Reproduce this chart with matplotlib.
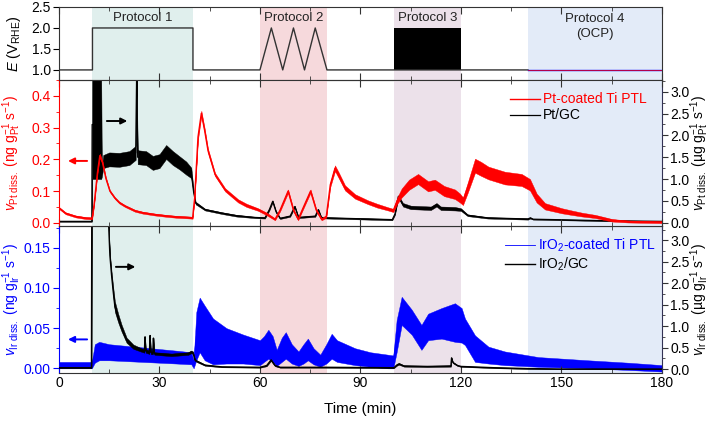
import matplotlib
matplotlib.use("Agg")
import matplotlib.pyplot as plt
from matplotlib.ticker import MultipleLocator
import numpy as np

plt.rcParams['font.family'] = ['Liberation Sans', 'DejaVu Sans']
plt.rcParams['mathtext.fontset'] = 'custom'
plt.rcParams['mathtext.rm'] = 'Liberation Sans'
plt.rcParams['mathtext.it'] = 'Liberation Sans:italic'
plt.rcParams['mathtext.bf'] = 'Liberation Sans:bold'

# ---------------- data ----------------
# Potential protocol (top panel)
t_E = [0, 10, 10, 40, 40, 60, 63.4, 66.8, 70, 73.3, 76.5, 80, 140]
E_V = [1.0, 1.0, 2.0, 2.0, 1.0, 1.0, 2.0, 1.0, 2.0, 1.0, 2.0, 1.0, 1.0]
t_p3 = [100, 120]          # rapid square wave block (protocol 3)
E_p3_low = [1.0, 1.0]
E_p3_high = [2.0, 2.0]
t_ocp = [140, 180]
E_ocp = [1.0, 1.0]

protocols = ["Protocol 1", "Protocol 2", "Protocol 3", "Protocol 4\n(OCP)"]
protocol_spans = [(10, 40), (60, 80), (100, 120), (140, 180)]
protocol_colors = ["#e0efed", "#f6d9dc", "#ece1ea", "#e3ebf8"]
protocol_label_E = [2.24, 2.24, 2.24, 2.03]

# Pt-coated Ti PTL (ng g-1 s-1), centre and half-width of noisy band
t_ptptl = [0, 2, 5, 8, 9.9, 10.5, 11.5, 12.2, 13, 14, 15.2, 16.7, 18, 19.7, 22.7, 25,
           28.7, 32, 35, 38.5, 39.9, 40.5, 41.5, 42.5, 43.5, 44.5, 46.6, 49.6, 53.5,
           56, 59.4, 62, 64.5, 66, 68.4, 70, 71.4, 73, 75.1, 76.8, 78.4, 79.8, 81,
           82.4, 83.5, 85.4, 88.4, 92.2, 95, 98.2, 99.8, 101, 102.3, 104.5, 107.2,
           110.2, 112.2, 115, 118.2, 119.7, 120.6, 122, 124.2, 126, 128.2, 133.1,
           138.1, 140.6, 142.6, 145.1, 150.1, 153, 156.1, 160.1, 165.1, 170, 180]
v_ptptl = [0.047, 0.03, 0.02, 0.015, 0.014, 0.06, 0.16, 0.212, 0.19, 0.14, 0.10,
           0.078, 0.064, 0.053, 0.038, 0.032, 0.026, 0.022, 0.019, 0.017, 0.016,
           0.08, 0.27, 0.345, 0.29, 0.227, 0.152, 0.104, 0.069, 0.055, 0.042, 0.028,
           0.011, 0.04, 0.10, 0.04, 0.011, 0.05, 0.10, 0.04, 0.011, 0.02, 0.12,
           0.172, 0.15, 0.11, 0.083, 0.065, 0.054, 0.044, 0.039, 0.07, 0.094, 0.12,
           0.138, 0.115, 0.12, 0.10, 0.09, 0.078, 0.068, 0.11, 0.18, 0.17, 0.157,
           0.141, 0.135, 0.12, 0.078, 0.052, 0.038, 0.032, 0.026, 0.02, 0.008,
           0.004, 0.002]
s_ptptl = [0.003, 0.003, 0.003, 0.003, 0.003, 0.004, 0.005, 0.006, 0.005, 0.004,
           0.003, 0.003, 0.003, 0.003, 0.003, 0.003, 0.003, 0.003, 0.003, 0.003,
           0.003, 0.005, 0.008, 0.008, 0.007, 0.006, 0.005, 0.005, 0.005, 0.005,
           0.004, 0.004, 0.003, 0.004, 0.005, 0.004, 0.003, 0.004, 0.005, 0.004,
           0.003, 0.004, 0.007, 0.009, 0.009, 0.008, 0.007, 0.006, 0.006, 0.005,
           0.005, 0.01, 0.014, 0.016, 0.016, 0.016, 0.016, 0.016, 0.015, 0.014,
           0.012, 0.016, 0.022, 0.022, 0.02, 0.02, 0.019, 0.018, 0.014, 0.01,
           0.008, 0.007, 0.006, 0.005, 0.004, 0.003, 0.003]

# Pt/GC (ug g-1 s-1)
t_ptgc = [0, 9.8, 9.9, 12.6, 12.8, 13.2, 15, 18, 21, 22.9, 23.2, 23.5, 26, 28, 30,
          32, 34, 36, 38, 39.5, 40.2, 40.8, 43.6, 48.6, 53, 58.5, 61.5, 62.8, 63.8,
          64.8, 66, 69, 70.4, 71.5, 76.5, 77.4, 78.3, 80, 90, 99.5, 100.3, 101.3,
          102.7, 105, 108.2, 111, 112.7, 114, 118.2, 120, 122, 128, 140, 140.7,
          141.5, 148, 163, 180]
v_ptgc = [0.03, 0.03, 2.25, 2.25, 1.15, 1.4, 1.45, 1.44, 1.48, 1.6, 3.5, 1.5, 1.48,
          1.37, 1.41, 1.62, 1.48, 1.37, 1.25, 1.14, 0.7, 0.45, 0.3, 0.22, 0.16, 0.12,
          0.11, 0.3, 0.49, 0.25, 0.1, 0.15, 0.37, 0.12, 0.15, 0.3, 0.12, 0.11, 0.09,
          0.07, 0.2, 0.6, 0.41, 0.35, 0.34, 0.33, 0.41, 0.33, 0.32, 0.3, 0.17, 0.11,
          0.085, 0.11, 0.08, 0.07, 0.045, 0.03]
s_ptgc = [0.01, 0.01, 1.25, 1.25, 0.1, 0.15, 0.16, 0.16, 0.16, 0.16, 0.0, 0.16,
          0.16, 0.16, 0.16, 0.16, 0.16, 0.15, 0.15, 0.12, 0.05, 0.03, 0.02, 0.02,
          0.02, 0.015, 0.015, 0.02, 0.02, 0.02, 0.015, 0.015, 0.02, 0.015, 0.015,
          0.02, 0.015, 0.015, 0.015, 0.015, 0.02, 0.03, 0.04, 0.04, 0.04, 0.04,
          0.04, 0.04, 0.04, 0.03, 0.02, 0.015, 0.015, 0.015, 0.01, 0.01, 0.01, 0.01]

# IrO2-coated Ti PTL (ng g-1 s-1): lower / upper edge of noisy band
t_irptl = [0, 5, 9.8, 10.7, 12, 15, 20, 25, 30, 35, 39.5, 40.2, 41, 42, 43.5, 46,
           50, 55, 60, 61.2, 62.5, 63.8, 65, 66.5, 67.7, 69.5, 71.5, 73, 74.3, 76,
           78, 79.8, 81.4, 83, 88.4, 93, 98.2, 99.8, 100.8, 102.3, 105.3, 108.2,
           110.2, 114.2, 118.2, 120.2, 121.2, 124.2, 128.2, 133.1, 143.1, 158, 170,
           180]
lo_irptl = [0.0, 0.0, 0.0, 0.007, 0.01, 0.01, 0.009, 0.008, 0.007, 0.006, 0.005,
            0.0, 0.01, 0.02, 0.01, 0.005, 0.006, 0.006, 0.004, 0.008, 0.012, 0.008,
            0.003, 0.008, 0.012, 0.006, 0.003, 0.006, 0.01, 0.005, 0.002, 0.006,
            0.012, 0.008, 0.004, 0.002, 0.0, 0.0, 0.02, 0.054, 0.042, 0.023, 0.035,
            0.037, 0.033, 0.032, 0.029, 0.008, 0.006, 0.004, 0.002, 0.0, -0.002,
            -0.004]
hi_irptl = [0.008, 0.008, 0.008, 0.03, 0.033, 0.03, 0.028, 0.026, 0.024, 0.022,
            0.02, 0.01, 0.07, 0.088, 0.078, 0.062, 0.05, 0.042, 0.035, 0.04, 0.048,
            0.04, 0.023, 0.038, 0.045, 0.03, 0.021, 0.03, 0.037, 0.025, 0.017, 0.03,
            0.043, 0.035, 0.025, 0.02, 0.017, 0.016, 0.06, 0.089, 0.073, 0.054,
            0.068, 0.075, 0.081, 0.075, 0.062, 0.041, 0.027, 0.021, 0.014, 0.01,
            0.007, 0.004]

# IrO2/GC (ug g-1 s-1)
t_irgc = [0, 9.7, 9.8, 14.5, 15.2, 15.7, 16.2, 16.7, 17.7, 18.7, 20.2, 22.2, 24.7,
          25.5, 25.7, 25.9, 27, 27.2, 27.4, 28, 28.2, 28.4, 28.7, 33.6, 38.6, 39.5,
          40, 40.6, 41.2, 43.6, 48.6, 60, 62, 63.3, 64.5, 66, 80, 100, 100.8, 101.5,
          103, 110, 117, 117.2, 117.6, 119, 120, 130, 140, 150, 180]
v_irgc = [0.03, 0.03, 4.0, 4.0, 2.65, 2.19, 1.8, 1.45, 1.18, 0.95, 0.67, 0.52, 0.44,
          0.42, 0.75, 0.42, 0.39, 0.78, 0.39, 0.37, 0.72, 0.37, 0.36, 0.33, 0.36,
          0.4, 0.38, 0.21, 0.18, 0.09, 0.05, 0.04, 0.08, 0.21, 0.08, 0.04, 0.04,
          0.03, 0.09, 0.12, 0.07, 0.06, 0.07, 0.26, 0.15, 0.08, 0.06, 0.03, 0.01,
          0.0, 0.0]
s_irgc = [0.01, 0.01, 0.0, 0.0, 0.05, 0.08, 0.1, 0.12, 0.1, 0.08, 0.06, 0.05, 0.04,
          0.04, 0.0, 0.04, 0.04, 0.0, 0.04, 0.03, 0.0, 0.03, 0.03, 0.03, 0.03, 0.03,
          0.03, 0.02, 0.02, 0.015, 0.01, 0.01, 0.015, 0.02, 0.015, 0.01, 0.01, 0.01,
          0.015, 0.02, 0.015, 0.015, 0.015, 0.0, 0.015, 0.01, 0.01, 0.01, 0.01,
          0.005, 0.005]

RED = "#ff0000"
BLUE = "#0000ff"
DARK = "#333333"

# ---------------- figure ----------------
fig = plt.figure(figsize=(7.13, 4.21), dpi=100)
L, W = 0.0827, 0.8457
ax0 = fig.add_axes([L, 0.81, W, 0.1734])
ax1 = fig.add_axes([L, 0.4632, W, 0.3468], sharex=ax0)
ax2 = fig.add_axes([L, 0.114, W, 0.349], sharex=ax0)
ax1r = ax1.twinx()
ax2r = ax2.twinx()

# red on top of black in middle panel
ax1.set_zorder(ax1r.get_zorder() + 1)
ax1.patch.set_visible(False)

for ax in (ax0, ax1r, ax2):
    for (a, b), c in zip(protocol_spans, protocol_colors):
        ax.axvspan(a, b, color=c, lw=0, zorder=0)

# top panel
ax0.plot(t_E, E_V, color=DARK, lw=1.0)
ax0.fill_between(t_p3, E_p3_low, E_p3_high, color="black", lw=0)
ax0.plot(t_ocp, E_ocp, color=BLUE, lw=1.0)
ax0.plot(t_ocp, [e - 0.004 for e in E_ocp], color=RED, lw=0.5)
ax0.set_ylim(0.76, 2.5)
ax0.set_yticks([1.0, 1.5, 2.0, 2.5])
ax0.set_ylabel(r'$\mathit{E}$ (V$_{\mathrm{RHE}}$)', fontsize=10.5)
for (a, b), txt, ly in zip(protocol_spans, protocols, protocol_label_E):
    ax0.text((a + b) / 2, ly, txt, ha='center', va='center', linespacing=1.3,
             fontsize=9.5, color="#222222")

def band(ax, t, c, s, color, lw=0.8):
    c = np.asarray(c); s = np.asarray(s)
    ax.fill_between(t, c - s, c + s, color=color, lw=0.3, edgecolor=color)
    ln, = ax.plot(t, c, color=color, lw=lw)
    return ln

# middle panel
l_red = band(ax1, t_ptptl, v_ptptl, s_ptptl, RED, lw=1.0)
l_blk = band(ax1r, t_ptgc, v_ptgc, s_ptgc, "black", lw=0.9)
ax1.set_ylim(-0.01, 0.45)
ax1r.set_ylim(-0.076, 3.27)
ax1.yaxis.set_major_locator(MultipleLocator(0.1))
ax1.yaxis.set_minor_locator(MultipleLocator(0.05))
ax1r.yaxis.set_major_locator(MultipleLocator(0.5))
ax1r.yaxis.set_minor_locator(MultipleLocator(0.25))
ax1.set_ylabel(r'$\mathit{v}_{\mathrm{Pt\ diss.}}$ (ng g$_{\mathrm{Pt}}^{-1}$ s$^{-1}$)',
               color=RED, fontsize=10)
ax1r.set_ylabel(r'$\mathit{v}_{\mathrm{Pt\ diss.}}$ (µg g$_{\mathrm{Pt}}^{-1}$ s$^{-1}$)',
                color="black", fontsize=10, rotation=90)
ax1r.legend([l_red, l_blk], ["Pt-coated Ti PTL", "Pt/GC"], loc='upper right',
            bbox_to_anchor=(0.975, 0.915), frameon=False, fontsize=10,
            labelcolor='linecolor', handlelength=2.15, handletextpad=0.25,
            labelspacing=0.15, borderaxespad=0, borderpad=0)

# bottom panel
c_ir = [(a + b) / 2 for a, b in zip(lo_irptl, hi_irptl)]
s_ir = [(b - a) / 2 for a, b in zip(lo_irptl, hi_irptl)]
l_blue = band(ax2, t_irptl, c_ir, s_ir, BLUE, lw=0.6)
l_blk2 = band(ax2r, t_irgc, v_irgc, s_irgc, "black", lw=1.0)
ax2.set_ylim(-0.0058, 0.177)
ax2r.set_ylim(-0.093, 3.33)
ax2.yaxis.set_major_locator(MultipleLocator(0.05))
ax2.yaxis.set_minor_locator(MultipleLocator(0.025))
ax2r.yaxis.set_major_locator(MultipleLocator(0.5))
ax2r.yaxis.set_minor_locator(MultipleLocator(0.25))
ax2.set_ylabel(r'$\mathit{v}_{\mathrm{Ir\ diss.}}$ (ng g$_{\mathrm{Ir}}^{-1}$ s$^{-1}$)',
               color=BLUE, fontsize=10)
ax2r.set_ylabel(r'$\mathit{v}_{\mathrm{Ir\ diss.}}$ (µg g$_{\mathrm{Ir}}^{-1}$ s$^{-1}$)',
                color="black", fontsize=10, rotation=90)
ax2r.legend([l_blue, l_blk2], ["IrO$_2$-coated Ti PTL", "IrO$_2$/GC"], loc='upper right',
            bbox_to_anchor=(0.99, 0.93), frameon=False, fontsize=10,
            labelcolor='linecolor', handlelength=2.15, handletextpad=0.25,
            labelspacing=0.15, borderaxespad=0, borderpad=0)

# label placement
for ax in (ax0, ax1, ax2):
    ax.yaxis.set_label_coords(-0.059, 0.5)
for ax in (ax1r, ax2r):
    ax.yaxis.set_label_coords(1.044, 0.5)

# arrows
arrow = dict(arrowstyle='-|>', lw=1.4, mutation_scale=9, shrinkA=0, shrinkB=0)
ax1.annotate('', xy=(2.7, 0.195), xytext=(8.4, 0.195), arrowprops=dict(color=RED, **arrow))
ax1r.annotate('', xy=(20.4, 2.33), xytext=(14.3, 2.33), arrowprops=dict(color="black", **arrow))
ax2.annotate('', xy=(2.7, 0.036), xytext=(8.4, 0.036), arrowprops=dict(color=BLUE, **arrow))
ax2r.annotate('', xy=(22.8, 2.38), xytext=(17.0, 2.38), arrowprops=dict(color="black", **arrow))

# x axis
ax2.set_xlim(0, 180)
ax2.xaxis.set_major_locator(MultipleLocator(30))
ax2.xaxis.set_minor_locator(MultipleLocator(15))
ax2.set_xlabel("Time (min)", fontsize=11, labelpad=9)
for ax in (ax0, ax1):
    ax.tick_params(axis='x', labelbottom=False)

for ax in (ax0, ax1, ax2):
    ax.tick_params(axis='x', which='both', direction='in', top=True, bottom=True,
                   colors=DARK, labelsize=10, labelcolor='black', pad=2)
    ax.tick_params(axis='x', which='major', length=5, width=0.8)
    ax.tick_params(axis='x', which='minor', length=3, width=0.6)
    ax.tick_params(axis='y', which='major', direction='out', length=4, width=0.8,
                   labelsize=10, pad=2)
    ax.tick_params(axis='y', which='minor', direction='out', length=2.5, width=0.6)
    for sp in ax.spines.values():
        sp.set_color(DARK)
        sp.set_linewidth(0.8)
for ax in (ax1r, ax2r):
    ax.tick_params(axis='y', which='major', direction='out', length=4, width=0.8,
                   labelsize=10, colors=DARK, labelcolor='black', pad=2)
    ax.tick_params(axis='y', which='minor', direction='out', length=2.5, width=0.6,
                   colors=DARK)
    ax.spines['left'].set_visible(False)
    ax.spines['top'].set_visible(False)
    ax.spines['bottom'].set_visible(False)
    ax.spines['right'].set_color("#333355")
    ax.spines['right'].set_linewidth(0.8)

ax1.spines['left'].set_color(RED)
ax1.tick_params(axis='y', which='both', colors=RED)
ax1.spines['right'].set_visible(False)
ax2.spines['left'].set_color(BLUE)
ax2.tick_params(axis='y', which='both', colors=BLUE)
ax2.spines['right'].set_visible(False)

fig.savefig("out.png", dpi=100)
